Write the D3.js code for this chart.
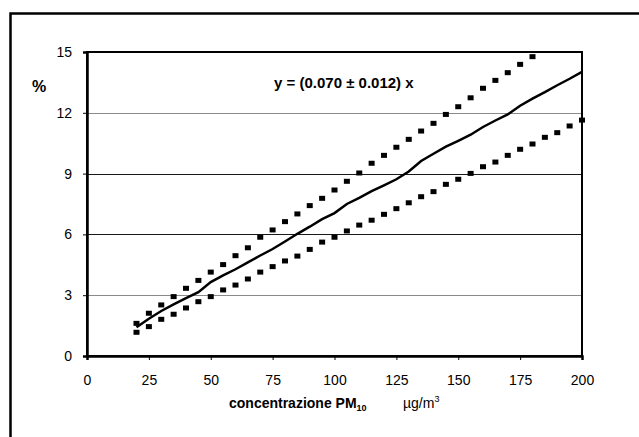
<!DOCTYPE html>
<html>
<head>
<meta charset="utf-8">
<script src="https://cdn.jsdelivr.net/npm/d3@7"></script>
<style>
  body { margin: 0; background: #fff; }
  text { font-family: "Liberation Sans", Arial, sans-serif; fill: #000; }
  .tick text { font-size: 14px; }
</style>
</head>
<body>
<div id="chart"></div>
<script>
// **** THE DATA ****

// concentration steps (x), upper band goes only up to 180 (above that it leaves the chart)
const xUpper = [20,25,30,35,40,45,50,55,60,65,70,75,80,85,90,95,100,105,110,115,120,125,130,135,140,145,150,155,160,165,170,175,180]
const upperValues = [1.61,2.11,2.52,2.93,3.34,3.73,4.14,4.51,4.95,5.34,5.86,6.22,6.63,7.01,7.42,7.78,8.19,8.62,9.03,9.51,9.90,10.30,10.69,11.10,11.48,11.92,12.30,12.74,13.21,13.60,13.98,14.39,14.77]

const xLower = [20,25,30,35,40,45,50,55,60,65,70,75,80,85,90,95,100,105,110,115,120,125,130,135,140,145,150,155,160,165,170,175,180,185,190,195,200]
const lowerValues = [1.17,1.45,1.81,2.06,2.37,2.68,2.93,3.26,3.50,3.80,4.14,4.41,4.69,4.93,5.26,5.62,5.86,6.17,6.46,6.70,6.99,7.27,7.56,7.86,8.11,8.47,8.72,9.01,9.34,9.57,9.90,10.20,10.46,10.79,11.02,11.35,11.64]

// the fitted line y = 0.070 x (as drawn, with its small wiggles)
const lineValues = [1.42,1.84,2.22,2.55,2.85,3.15,3.65,3.98,4.28,4.62,4.96,5.28,5.65,6.03,6.38,6.75,7.05,7.50,7.80,8.13,8.42,8.72,9.10,9.62,9.98,10.33,10.62,10.92,11.30,11.62,11.92,12.35,12.70,13.02,13.36,13.68,14.02]

const xTicks = [0,25,50,75,100,125,150,175,200]
const yTicks = [0,3,6,9,12,15]
const equationLabel = "y = (0.070 \u00b1 0.012) x"

//------------------------------------------------------------------------------

// **** THE SETUP ****

const width = 639
const height = 437
const plot = {left: 87, right: 582, top: 52, bottom: 356}

const xScale = d3.scaleLinear()
    .domain([0, 200])
    .range([plot.left, plot.right])

const yScale = d3.scaleLinear()
    .domain([0, 15])
    .range([plot.bottom, plot.top])

const line = d3.line()
    .x((d, i) => xScale(xLower[i]))
    .y((d) => yScale(d))

//------------------------------------------------------------------------------

// **** PUT IT ON THE PAGE ****

const svg = d3.select("#chart").append("svg")
    .attr("width", width)
    .attr("height", height)

// outer frame (runs off the right and bottom of the picture)
svg.append("rect")
    .attr("x", 10.5)
    .attr("y", 13.5)
    .attr("width", 640)
    .attr("height", 440)
    .attr("fill", "none")
    .attr("stroke", "#000")
    .attr("stroke-width", 2.5)

// --> GRIDLINES
svg.append("g")
  .selectAll("line")
    .data(yTicks.filter((d) => d > 0 && d < 15))
  .enter().append("line")
    .attr("x1", plot.left)
    .attr("x2", plot.right)
    .attr("y1", (d) => Math.round(yScale(d)) + 0.5)
    .attr("y2", (d) => Math.round(yScale(d)) + 0.5)
    .attr("stroke", (d) => (d === 12 || d === 3) ? "#8a8a8a" : "#1a1a1a")
    .attr("stroke-width", 1.2)

// plot frame: top and right thin, axes thicker
svg.append("rect")
    .attr("x", plot.left)
    .attr("y", plot.top)
    .attr("width", plot.right - plot.left)
    .attr("height", plot.bottom - plot.top)
    .attr("fill", "none")
    .attr("stroke", "#000")
    .attr("stroke-width", 2)

// --> X-AXIS
const xAxis = svg.append("g")
    .attr("transform", "translate(0," + plot.bottom + ")")
    .call(d3.axisBottom(xScale).tickValues(xTicks).tickSize(4).tickPadding(15).tickFormat(d3.format("d")))
xAxis.select(".domain").attr("stroke-width", 2.5)

// --> Y-AXIS
const yAxis = svg.append("g")
    .attr("transform", "translate(" + plot.left + ",0)")
    .call(d3.axisLeft(yScale).tickValues(yTicks).tickSize(4).tickPadding(11).tickFormat(d3.format("d")))
yAxis.select(".domain").attr("stroke-width", 2.5)

// --> ADD LINE
svg.append("path")
    .datum(lineValues)
    .attr("d", line)
    .attr("fill", "none")
    .attr("stroke", "#000")
    .attr("stroke-width", 2.5)

// --> ADD DOTS (upper and lower band)
svg.selectAll(".upper")
    .data(upperValues)
  .enter().append("rect")
    .attr("class", "upper")
    .attr("x", (d, i) => xScale(xUpper[i]) - 3)
    .attr("y", (d) => yScale(d) - 2.5)
    .attr("width", 6)
    .attr("height", 5)
    .attr("fill", "#000")

svg.selectAll(".lower")
    .data(lowerValues)
  .enter().append("rect")
    .attr("class", "lower")
    .attr("x", (d, i) => xScale(xLower[i]) - 3)
    .attr("y", (d) => yScale(d) - 2.5)
    .attr("width", 6)
    .attr("height", 5)
    .attr("fill", "#000")

// --> LABELS
svg.append("text")
    .attr("x", 32)
    .attr("y", 92)
    .attr("font-size", 16)
    .attr("font-weight", "bold")
    .text("%")

svg.append("text")
    .attr("x", 274)
    .attr("y", 88)
    .attr("font-size", 15)
    .attr("font-weight", "bold")
    .text(equationLabel)

const xTitle = svg.append("text")
    .attr("x", 229)
    .attr("y", 408)
    .attr("font-size", 14)
xTitle.append("tspan").attr("font-weight", "bold").text("concentrazione PM")
xTitle.append("tspan").attr("font-weight", "bold").attr("font-size", 9).attr("dy", 3).text("10")

const unit = svg.append("text")
    .attr("x", 403)
    .attr("y", 408)
    .attr("font-size", 14)
unit.append("tspan").text("\u00b5g/m")
unit.append("tspan").attr("font-size", 9).attr("dy", -6).text("3")
</script>
</body>
</html>
